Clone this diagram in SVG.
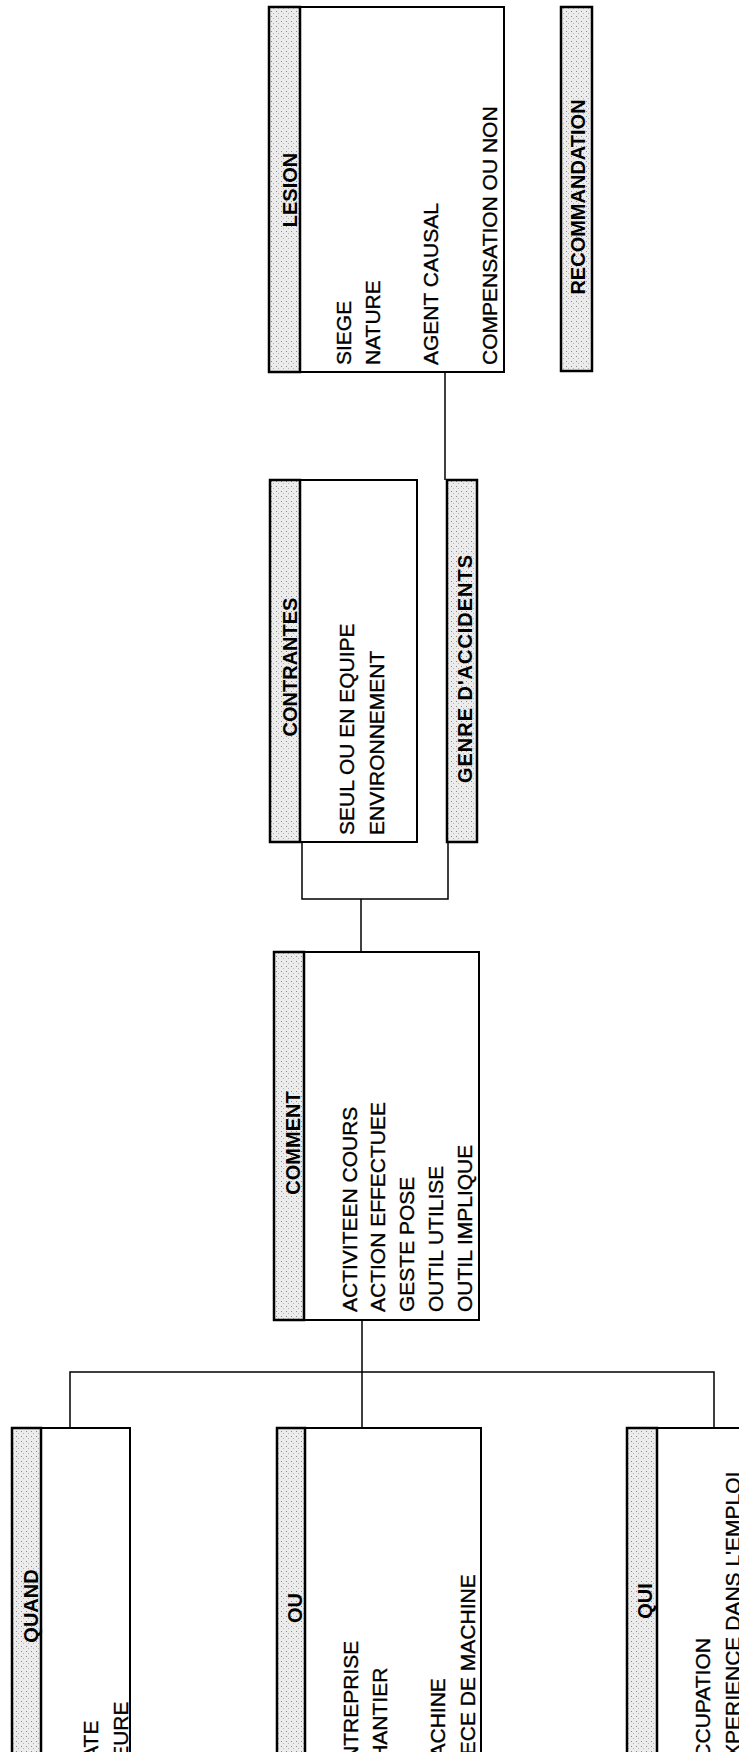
<svg xmlns="http://www.w3.org/2000/svg" width="739" height="1752" viewBox="0 0 739 1752">
<defs>
<pattern id="stip" width="5" height="5" patternUnits="userSpaceOnUse">
<rect width="5" height="5" fill="#ececec"/>
<rect x="1" y="1" width="1" height="1" fill="#8a8a8a"/>
<rect x="3" y="3" width="1" height="1" fill="#b4b4b4"/>
</pattern>
</defs>
<style>
.box{fill:#fff;stroke:#000;stroke-width:2}
.hdr{fill:url(#stip);stroke:#000;stroke-width:2.5}
.lbl{font-family:"Liberation Sans",Arial,sans-serif;font-weight:bold;font-size:20px;fill:#000;text-anchor:middle}
.txt{font-family:"Liberation Sans",Arial,sans-serif;font-size:21px;fill:#000;stroke:#000;stroke-width:0.35}
.con{fill:none;stroke:#000;stroke-width:1.5}
</style>
<rect width="739" height="1752" fill="#fff"/>

<g id="connectors">
<path class="con" d="M445,372 V480"/>
<path class="con" d="M302,842 V899 H448 V842"/>
<path class="con" d="M361,899 V952"/>
<path class="con" d="M362,1320 V1428"/>
<path class="con" d="M70,1428 V1372 H714 V1428"/>
</g>

<g id="lesion">
<rect class="box" x="269" y="7" width="235" height="365"/>
<rect class="hdr" x="269" y="7" width="31" height="365"/>
<text class="lbl" transform="translate(297,190) rotate(-90)">LESION</text>
<text class="txt" transform="translate(351,365) rotate(-90)">SIEGE</text>
<text class="txt" transform="translate(380,365) rotate(-90)">NATURE</text>
<text class="txt" transform="translate(438,365) rotate(-90)">AGENT CAUSAL</text>
<text class="txt" transform="translate(497,365) rotate(-90)">COMPENSATION OU NON</text>
</g>

<g id="recommandation">
<rect class="hdr" x="561" y="7" width="31" height="364"/>
<text class="lbl" transform="translate(585,197) rotate(-90)">RECOMMANDATION</text>
</g>

<g id="contrantes">
<rect class="box" x="270" y="480" width="147" height="362"/>
<rect class="hdr" x="270" y="480" width="30" height="362"/>
<text class="lbl" transform="translate(297,667) rotate(-90)">CONTRANTES</text>
<text class="txt" transform="translate(354,835) rotate(-90)">SEUL OU EN EQUIPE</text>
<text class="txt" transform="translate(384,835) rotate(-90)">ENVIRONNEMENT</text>
</g>

<g id="genre">
<rect class="hdr" x="447" y="480" width="30" height="362"/>
<text class="lbl" transform="translate(472,669) rotate(-90)" textLength="228" lengthAdjust="spacing">GENRE D'ACCIDENTS</text>
</g>

<g id="comment">
<rect class="box" x="274" y="952" width="205" height="368"/>
<rect class="hdr" x="274" y="952" width="30" height="368"/>
<text class="lbl" transform="translate(300,1143) rotate(-90)">COMMENT</text>
<text class="txt" transform="translate(357,1312) rotate(-90)">ACTIVITEEN COURS</text>
<text class="txt" transform="translate(385,1312) rotate(-90)">ACTION EFFECTUEE</text>
<text class="txt" transform="translate(414,1312) rotate(-90)">GESTE POSE</text>
<text class="txt" transform="translate(443,1312) rotate(-90)">OUTIL UTILISE</text>
<text class="txt" transform="translate(472,1312) rotate(-90)">OUTIL IMPLIQUE</text>
</g>

<g id="quand">
<rect class="box" x="12" y="1428" width="118" height="360"/>
<rect class="hdr" x="12" y="1428" width="29" height="360"/>
<text class="lbl" transform="translate(38,1606) rotate(-90)">QUAND</text>
<text class="txt" transform="translate(98,1775) rotate(-90)">DATE</text>
<text class="txt" transform="translate(128,1775) rotate(-90)">HEURE</text>
</g>

<g id="ou">
<rect class="box" x="277" y="1428" width="204" height="360"/>
<rect class="hdr" x="277" y="1428" width="28" height="360"/>
<text class="lbl" transform="translate(302,1608) rotate(-90)">OU</text>
<text class="txt" transform="translate(358,1775) rotate(-90)">ENTREPRISE</text>
<text class="txt" transform="translate(387,1775) rotate(-90)">CHANTIER</text>
<text class="txt" transform="translate(445,1775) rotate(-90)">MACHINE</text>
<text class="txt" transform="translate(475,1775) rotate(-90)">PIECE DE MACHINE</text>
</g>

<g id="qui">
<rect class="box" x="627" y="1428" width="140" height="360"/>
<rect class="hdr" x="627" y="1428" width="30" height="360"/>
<text class="lbl" transform="translate(652,1601) rotate(-90)">QUI</text>
<text class="txt" transform="translate(710,1775) rotate(-90)">OCCUPATION</text>
<text class="txt" transform="translate(740,1772) rotate(-90)">EXPERIENCE DANS L'EMPLOI</text>
</g>
</svg>
